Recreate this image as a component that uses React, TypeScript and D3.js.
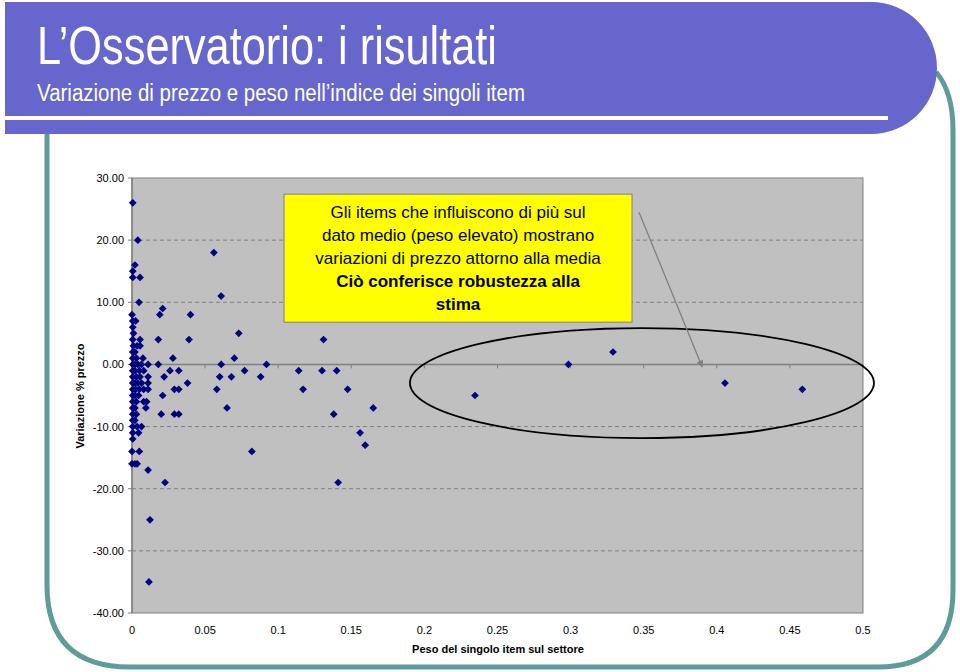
import React from "react";
import * as d3 from "d3";

// ---------- data ----------
const titleText = "L\u2019Osservatorio: i risultati";
const subtitleText = "Variazione di prezzo e peso nell\u2019indice dei singoli item";
const xAxisTitle = "Peso del singolo item sul settore";
const yAxisTitle = "Variazione % prezzo";

const xTicks = [0, 0.05, 0.1, 0.15, 0.2, 0.25, 0.3, 0.35, 0.4, 0.45, 0.5];
const yTicks = [-40, -30, -20, -10, 0, 10, 20, 30];

// peso (weight) of each item
const peso = [
  0.0005, 0.004, 0.002, 0.0005, 0.0005, 0.0055, 0.0048,
  0.0, 0.0005, 0.0025, 0.0005, 0.001, 0.0005, 0.0055, 0.001, 0.0035, 0.0055, 0.0005, 0.002, 0.0005, 0.003, 0.0075,
  0.0005, 0.002, 0.004, 0.0065, 0.011,
  0.0005, 0.002, 0.005, 0.008,
  0.0005, 0.003, 0.0055, 0.011,
  0.0005, 0.002, 0.004, 0.0065, 0.011,
  0.0005, 0.0025, 0.005, 0.008, 0.011,
  0.0005, 0.002, 0.0045,
  0.0005, 0.003, 0.008, 0.010,
  0.0005, 0.002, 0.0095,
  0.0005, 0.003,
  0.0005, 0.002,
  0.0005, 0.0035, 0.0065,
  0.0005, 0.0045,
  0.0005,
  0.0, 0.005,
  0.0, 0.002, 0.0035,
  0.011,
  0.0123, 0.0116,
  0.018, 0.019, 0.021, 0.018, 0.028, 0.022, 0.026, 0.032, 0.029, 0.032, 0.038, 0.021, 0.020, 0.029, 0.032, 0.040, 0.039, 0.0226,
  0.056, 0.061, 0.073, 0.070, 0.061, 0.060, 0.068, 0.077, 0.058, 0.065, 0.082, 0.092, 0.088,
  0.131, 0.114, 0.130, 0.140, 0.117, 0.1475, 0.138, 0.165, 0.156, 0.1595, 0.141,
  0.2346, 0.2985, 0.329, 0.4056, 0.4585,
];
// variazione % prezzo (price change) of each item
const prezzo = [
  26, 20, 16, 15, 14, 14, 10,
  8, 7, 7, 6, 5, 4, 4, 3, 3, 3, 2, 2, 1, 1, 1,
  0, 0, 0, 0, 0,
  -1, -1, -1, -1,
  -2, -2, -2, -2,
  -3, -3, -3, -3, -3,
  -4, -4, -4, -4, -4,
  -5, -5, -5,
  -6, -6, -6, -6,
  -7, -7, -7,
  -8, -8,
  -9, -9,
  -10, -10, -10,
  -11, -11,
  -12,
  -14, -14,
  -16, -16, -16,
  -17,
  -25, -35,
  0, 8, 9, 4, 1, -2, -1, -1, -4, -4, -3, -5, -8, -8, -8, 8, 4, -19,
  18, 11, 5, 1, 0, -2, -2, -1, -4, -7, -14, 0, -2,
  4, -1, -1, -1, -4, -4, -8, -7, -11, -13, -19,
  -5, 0, 2, -3, -4,
];

const calloutLines = [
  "Gli items che influiscono di più sul",
  "dato medio (peso elevato) mostrano",
  "variazioni di prezzo attorno alla media",
];
const calloutBoldLines = ["Ciò conferisce robustezza alla", "stima"];

// annotation anchors in data units
const calloutBox = { x0: 0.104, x1: 0.342, y0: 27.4, y1: 6.8 };
const arrowFrom = { x: 0.3468, y: 24.5 };
const arrowTo = { x: 0.39, y: -0.4 };
const ellipseData = { cx: 0.3488, cy: -3.0, rx: 0.1587, ry: 8.85 };

// ---------- layout ----------
const W = 960;
const H = 672;
const plot = { left: 132, right: 863, top: 178, bottom: 613 };
const FONT = "'Liberation Sans', Arial, sans-serif";
const NARROW = "'Liberation Sans Narrow', 'Arial Narrow', 'Liberation Sans', Arial, sans-serif";

export default function App() {
  const x = d3.scaleLinear().domain([0, 0.5]).range([plot.left, plot.right]);
  const y = d3.scaleLinear().domain([-40, 30]).range([plot.bottom, plot.top]);
  const diamond = d3.symbol().type(d3.symbolSquare).size(30)() as string;

  const points = peso.map((p, i) => ({ p, v: prezzo[i] }));
  const y0 = y(0);

  const bx0 = x(calloutBox.x0);
  const bx1 = x(calloutBox.x1);
  const by0 = y(calloutBox.y0);
  const by1 = y(calloutBox.y1);
  const bcx = (bx0 + bx1) / 2;

  return (
    <svg
      width={W}
      height={H}
      style={{ position: "absolute", left: 0, top: 0, display: "block", background: "#fff" }}
    >
      <defs>
        <marker id="arrowHead" viewBox="0 0 10 10" refX="9" refY="5" markerWidth="9" markerHeight="7" markerUnits="userSpaceOnUse" orient="auto">
          <path d="M0,0 L10,5 L0,10 Z" fill="#808080" />
        </marker>
      </defs>

      {/* decorative frame */}
      <path
        d="M47,134 V585 Q47,667 130,667 H878 Q953,667 953,590 V130 Q953,92 936,72"
        fill="none"
        stroke="#5F9C98"
        strokeWidth={5}
      />
      {/* header band */}
      <path d="M5,2 H871 A66,66 0 0 1 871,134 H5 Z" fill="#6666CC" />
      <rect x={5} y={116} width={883} height={4} fill="#ffffff" />
      <text x={37} y={64} fill="#fff" fontFamily={NARROW} fontSize={54} textLength={460} lengthAdjust="spacingAndGlyphs">
        {titleText}
      </text>
      <text x={37} y={101} fill="#fff" fontFamily={NARROW} fontSize={23} textLength={488} lengthAdjust="spacingAndGlyphs">
        {subtitleText}
      </text>

      {/* plot area */}
      <rect x={plot.left} y={plot.top} width={plot.right - plot.left} height={plot.bottom - plot.top} fill="#C0C0C0" stroke="#808080" strokeWidth={1} />
      {yTicks
        .filter((t) => t !== 0 && t !== 30 && t !== -40)
        .map((t) => (
          <line key={"g" + t} x1={plot.left} x2={plot.right} y1={y(t)} y2={y(t)} stroke="#808080" strokeWidth={1} strokeDasharray="4,3" />
        ))}
      {/* y axis */}
      <line x1={plot.left} x2={plot.left} y1={plot.top} y2={plot.bottom} stroke="#808080" strokeWidth={1.5} />
      {yTicks.map((t) => (
        <g key={"yt" + t}>
          <line x1={plot.left - 4} x2={plot.left} y1={y(t)} y2={y(t)} stroke="#808080" />
          <text x={124} y={y(t)} dy="0.36em" textAnchor="end" fontFamily={FONT} fontSize={11} fill="#000">
            {t.toFixed(2)}
          </text>
        </g>
      ))}
      {/* x axis at zero */}
      <line x1={plot.left} x2={plot.right} y1={y0} y2={y0} stroke="#808080" strokeWidth={1.5} />
      {xTicks.map((t) => (
        <g key={"xt" + t}>
          <line x1={x(t)} x2={x(t)} y1={y0} y2={y0 + 4} stroke="#808080" />
          <text x={x(t)} y={634} textAnchor="middle" fontFamily={FONT} fontSize={11} fill="#000">
            {String(t)}
          </text>
        </g>
      ))}

      {/* points */}
      {points.map((d, i) => (
        <path key={i} d={diamond} transform={`translate(${x(d.p)},${y(d.v)}) rotate(45)`} fill="#000080" />
      ))}

      {/* axis titles */}
      <text x={498} y={653} textAnchor="middle" fontFamily={FONT} fontSize={11} fontWeight="bold" fill="#000">
        {xAxisTitle}
      </text>
      <text transform={`translate(84,396) rotate(-90)`} textAnchor="middle" fontFamily={FONT} fontSize={11} fontWeight="bold" fill="#000">
        {yAxisTitle}
      </text>

      {/* ellipse annotation */}
      <ellipse
        cx={x(ellipseData.cx)}
        cy={y(ellipseData.cy)}
        rx={x(ellipseData.rx) - x(0)}
        ry={y(0) - y(ellipseData.ry)}
        fill="none"
        stroke="#000"
        strokeWidth={1.8}
      />

      {/* callout */}
      <rect x={bx0} y={by0} width={bx1 - bx0} height={by1 - by0} fill="#FFFF00" stroke="#808080" strokeWidth={1} />
      {calloutLines.map((s, i) => (
        <text key={"c" + i} x={bcx} y={by0 + 24 + i * 23} textAnchor="middle" fontFamily={FONT} fontSize={17} fill="#000">
          {s}
        </text>
      ))}
      {calloutBoldLines.map((s, i) => (
        <text key={"cb" + i} x={bcx} y={by0 + 24 + (i + 3) * 23} textAnchor="middle" fontFamily={FONT} fontSize={17} fontWeight="bold" fill="#000">
          {s}
        </text>
      ))}

      {/* arrow */}
      <line
        x1={x(arrowFrom.x)}
        y1={y(arrowFrom.y)}
        x2={x(arrowTo.x)}
        y2={y(arrowTo.y)}
        stroke="#808080"
        strokeWidth={1.3}
        markerEnd="url(#arrowHead)"
      />
    </svg>
  );
}
